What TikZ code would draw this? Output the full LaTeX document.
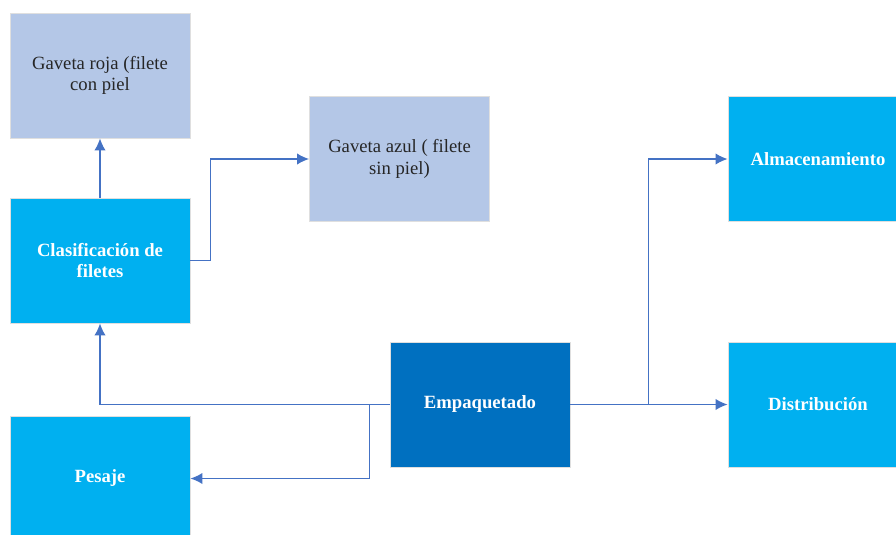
\documentclass[tikz,border=0pt]{standalone}
\usepackage{fontspec}
\setmainfont{Liberation Serif}
\usetikzlibrary{arrows.meta,positioning}
\definecolor{bandeja}{HTML}{B4C7E7}
\definecolor{proceso}{HTML}{00B0F0}
\definecolor{empaque}{HTML}{0070C0}
\definecolor{flecha}{HTML}{4472C4}
\tikzset{
     box/.style={draw=gray!25, line width=0.6pt, minimum width=135pt,
       minimum height=93.75pt, align=center, inner sep=0pt,
       font=\fontsize{14}{16}\selectfont},
     tray/.style={box, fill=bandeja, text=black!85},
     stage/.style={box, fill=proceso, text=white,
       font=\fontsize{14}{16}\selectfont\bfseries},
     pack/.style={stage, fill=empaque},
     flow/.style={flecha, -{Latex[length=9pt,width=8.5pt]}, line width=1.1pt},
    }

\begin{document}
\begin{tikzpicture}[x=0.75pt,y=-0.75pt]
    \useasboundingbox (0,0) rectangle (896,535);

    \node [tray]  (roja)    at (100,75.5)   {Gaveta roja (filete\\con piel};
    \node [stage] (clasif)  at (100,260.5)  {Clasificación de\\filetes};
    \node [tray]  (azul)    at (399.5,159)  {Gaveta azul ( filete\\sin piel)};
    \node [pack]  (empaq)   at (480,404.5)  {Empaquetado};
    \node [stage] (pesaje)  at (100,478.5)  {Pesaje};
    \node [stage] (almac)   at (818,159)    {Almacenamiento};
    \node [stage] (distrib) at (818,404.5)  {Distribución};

    \draw[flow] (clasif) -- (roja);
    \draw[flow] (clasif.east) -- ++(20,0) |- (azul.west);
    \draw[flow] (empaq.west) -| (clasif.south);
    \draw[flow] (empaq.west) -- ++(-20,0) |- (pesaje.east);
    \draw[flow] (empaq.east) -- (distrib.west);
    \draw[flow] (empaq.east) -- ++(78,0) |- (almac.west);
\end{tikzpicture}
\end{document}
